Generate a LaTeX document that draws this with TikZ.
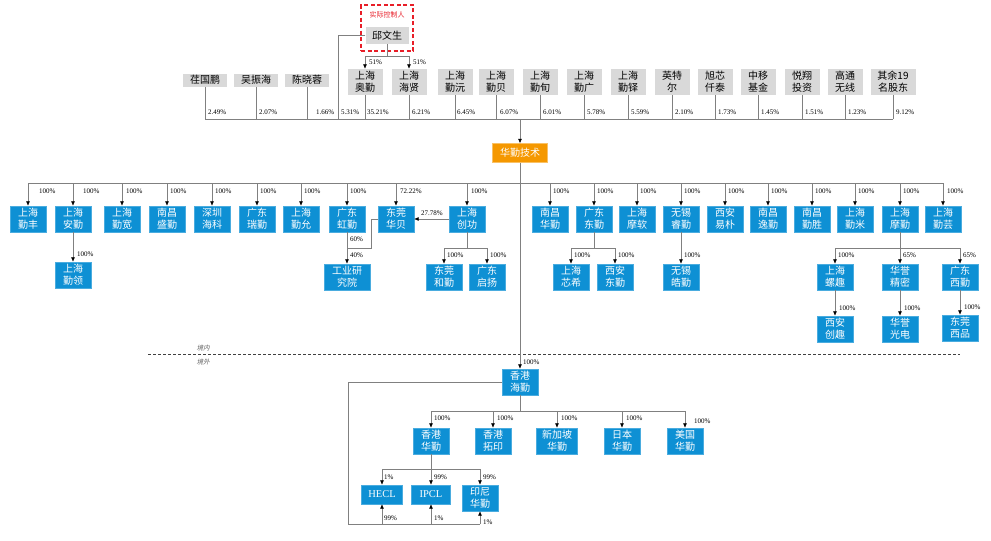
\documentclass[tikz,border=0pt]{standalone}
\usepackage{fontspec}
\setmainfont{Liberation Serif}
\newfontfamily\cjk{Noto Sans CJK SC}
\newfontfamily\cjkit[FakeSlant=0.25]{Noto Sans CJK SC}
\usetikzlibrary{arrows.meta}
\definecolor{qblue}{RGB}{14,144,212}
\definecolor{qgray}{RGB}{217,217,217}
\definecolor{qorange}{RGB}{245,152,0}
\definecolor{qline}{RGB}{128,128,128}
\definecolor{qred}{RGB}{232,30,40}
\tikzset{
 bbox/.style={fill=qblue, draw=qblue!75!white, line width=0.4pt, text=white, minimum width=36pt, minimum height=26pt, inner sep=0pt, align=center, font=\cjk\fontsize{10}{12}\selectfont},
 ebox/.style={bbox, minimum height=19pt, font=\fontsize{10.5}{12}\selectfont},
 gbox/.style={fill=qgray, text=black, minimum width=35pt, minimum height=26pt, inner sep=0pt, align=center, font=\cjk\fontsize{10}{12}\selectfont},
 gboxone/.style={gbox, minimum width=44pt, minimum height=13pt},
 ln/.style={draw=qline, line width=0.6pt},
 arr/.style={ln, -{Latex[length=4.5pt,width=4pt,color=black]}},
 pct/.style={anchor=west, inner sep=0pt, font=\fontsize{7}{8}\selectfont},
}
\begin{document}
\begin{tikzpicture}[x=1pt,y=-1pt]
\fill[white] (0,0) rectangle (991,541);
\useasboundingbox (0,0) rectangle (991,541);

% controller
\node[draw=qred, line width=1.2pt, dash pattern=on 4pt off 2.5pt, minimum width=52pt, minimum height=46pt, inner sep=0pt] (ctrl) at (387,28) {};
\node[text=qred, inner sep=0pt, font=\cjk\fontsize{7}{8}\selectfont] (ctrllab) at (387,15) {实际控制人};
\node[gbox, minimum width=43pt, minimum height=17pt] (qiu) at (387,35.5) {邱文生};

% shareholders
\node[gboxone] (h1) at (205,80) {荏国鹏};
\node[gboxone] (h2) at (256,80) {吴振海};
\node[gboxone] (h3) at (307,80) {陈晓蓉};
\node[gbox] (h4) at (365,82) {上海\\奥勤};
\node[gbox] (h5) at (409,82) {上海\\海贤};
\node[gbox] (h6) at (455,82) {上海\\勤沅};
\node[gbox] (h7) at (496,82) {上海\\勤贝};
\node[gbox] (h8) at (540,82) {上海\\勤旬};
\node[gbox] (h9) at (584,82) {上海\\勤广};
\node[gbox] (h10) at (628,82) {上海\\勤铎};
\node[gbox] (h11) at (672,82) {英特\\尔};
\node[gbox] (h12) at (715,82) {旭芯\\仟泰};
\node[gbox] (h13) at (758,82) {中移\\基金};
\node[gbox] (h14) at (802,82) {悦翔\\投资};
\node[gbox] (h15) at (845,82) {高通\\无线};
\node[gbox, minimum width=45pt] (h16) at (893,82) {其余19\\名股东};

\coordinate (busy) at (0,119);
\coordinate (b5) at (338,119);
\draw[ln] (h1.south |- busy) -- (h16.south |- busy);
\foreach \i in {1,...,16} \draw[ln] (h\i.south) -- (h\i.south |- busy);
\draw[ln] (qiu.west) -| (b5);
\foreach \i/\lx/\p in {1/208/2.49,2/259/2.07,3/316/1.66,4/367/35.21,5/412/6.21,6/457/6.45,7/500/6.07,8/543/6.01,9/587/5.78,10/631/5.59,11/675/2.10,12/718/1.73,13/761/1.45,14/805/1.51,15/848/1.23,16/896/9.12}
  \node[pct] (hl\i) at (\lx,112) {\p\%};
\node[pct] (hl0) at (341,112) {5.31\%};

\coordinate (qj) at (387,56);
\draw[ln] (qiu.south) -- (qj);
\draw[arr] (qj) -| (h4.north);
\draw[arr] (qj) -| (h5.north);
\node[pct] (ql1) at (369,62) {51\%};
\node[pct] (ql2) at (413,62) {51\%};

% company
\node[fill=qorange, draw=qorange!60!white, line width=0.4pt, text=white, minimum width=55pt, minimum height=19pt, inner sep=0pt, font=\cjk\fontsize{10}{12}\selectfont] (hq) at (520,153) {华勤技术};
\draw[arr] (hq.north |- busy) -- (hq.north);

% first-level subsidiaries
\foreach \i/\x/\a/\b in {1/28/上海/勤丰, 2/73/上海/安勤, 3/122/上海/勤宽, 4/167/南昌/盛勤, 5/212/深圳/海科, 6/257/广东/瑞勤, 7/301/上海/勤允, 8/347/广东/虹勤, 9/396/东莞/华贝, 10/467/上海/创功, 11/550/南昌/华勤, 12/594/广东/东勤, 13/637/上海/摩软, 14/681/无锡/睿勤, 15/725/西安/易朴, 16/768/南昌/逸勤, 17/812/南昌/勤胜, 18/855/上海/勤米, 19/900/上海/摩勤, 20/943/上海/勤芸}
  \node[bbox] (r\i) at (\x,219) {\a\\\b};
\coordinate (busb) at (0,183);
\draw[ln] (r1.north |- busb) -- (r20.north |- busb);
\foreach \i in {1,...,20} \draw[arr] (r\i.north |- busb) -- (r\i.north);
\foreach \i/\lx/\p in {1/39/100,2/83/100,3/126/100,4/170/100,5/215/100,6/260/100,7/304/100,8/350/100,9/400/72.22,10/471/100,11/553/100,12/597/100,13/640/100,14/684/100,15/728/100,16/771/100,17/815/100,18/858/100,19/903/100,20/947/100}
  \node[pct] (rl\i) at (\lx,191) {\p\%};

% second level
\node[bbox] (c1) at (73,275) {上海\\勤领};
\node[bbox, minimum width=46pt] (c2) at (347,277) {工业研\\究院};
\node[bbox] (c3) at (444,277) {东莞\\和勤};
\node[bbox] (c4) at (487,277) {广东\\启扬};
\node[bbox] (c5) at (571,277) {上海\\芯希};
\node[bbox] (c6) at (615,277) {西安\\东勤};
\node[bbox] (c7) at (681,277) {无锡\\皓勤};
\node[bbox] (c8) at (835,277) {上海\\螺趣};
\node[bbox] (c9) at (900,277) {华誉\\精密};
\node[bbox] (c10) at (960,277) {广东\\西勤};
\node[bbox] (d1) at (835,329) {西安\\创趣};
\node[bbox] (d2) at (900,329) {华誉\\光电};
\node[bbox] (d3) at (960,328) {东莞\\西品};

\draw[arr] (r2.south) -- (c1.north);
\node[pct] (cl1) at (77,254) {100\%};

\coordinate (j1) at (347,248);
\draw[arr] (r8.south) -- (c2.north);
\draw[ln] (r9.west) -- (371,219) |- (j1);
\node[pct] (cl2a) at (350,239) {60\%};
\node[pct] (cl2b) at (350,255) {40\%};
\draw[arr] (r10.west) -- (r9.east);
\node[pct] (cl9) at (421,213) {27.78\%};

\coordinate (j2) at (467,248);
\draw[ln] (r10.south) -- (j2);
\draw[arr] (j2) -| (c3.north);
\draw[arr] (j2) -| (c4.north);
\node[pct] (cl3) at (447,255) {100\%};
\node[pct] (cl4) at (490,255) {100\%};

\coordinate (j3) at (594,248);
\draw[ln] (r12.south) -- (j3);
\draw[arr] (j3) -| (c5.north);
\draw[arr] (j3) -| (c6.north);
\node[pct] (cl5) at (574,255) {100\%};
\node[pct] (cl6) at (618,255) {100\%};

\draw[arr] (r14.south) -- (c7.north);
\node[pct] (cl7) at (684,255) {100\%};

\coordinate (j4) at (900,248);
\draw[ln] (r19.south) -- (j4);
\draw[arr] (j4) -| (c8.north);
\draw[arr] (j4) -- (c9.north);
\draw[arr] (j4) -| (c10.north);
\node[pct] (cl8) at (838,255) {100\%};
\node[pct] (cl9b) at (903,255) {65\%};
\node[pct] (cl10) at (963,255) {65\%};

\draw[arr] (c8.south) -- (d1.north);
\draw[arr] (c9.south) -- (d2.north);
\draw[arr] (c10.south) -- (d3.north);
\node[pct] (dl1) at (839,308) {100\%};
\node[pct] (dl2) at (904,308) {100\%};
\node[pct] (dl3) at (964,307) {100\%};

% border line
\coordinate (dashl) at (148,354);
\coordinate (dashr) at (960,354);
\draw[black!75, line width=0.8pt, dash pattern=on 3pt off 2pt] (dashl) -- (dashr);
\node[text=black!60, inner sep=0pt, font=\cjkit\fontsize{6.5}{7}\selectfont] (jn) at (203,348) {境内};
\node[text=black!60, inner sep=0pt, font=\cjkit\fontsize{6.5}{7}\selectfont] (jw) at (203,362) {境外};

% overseas
\node[bbox] (hk) at (520,382) {香港\\海勤};
\draw[arr] (hq.south) -- (hk.north);
\node[pct] (hkl) at (523,362) {100\%};

\node[bbox] (k1) at (431,441) {香港\\华勤};
\node[bbox] (k2) at (493,441) {香港\\拓印};
\node[bbox, minimum width=41pt] (k3) at (557,441) {新加坡\\华勤};
\node[bbox] (k4) at (622,441) {日本\\华勤};
\node[bbox] (k5) at (685,441) {美国\\华勤};
\coordinate (j5) at (520,411);
\draw[ln] (hk.south) -- (j5);
\draw[ln] (k1.north |- j5) -- (k5.north |- j5);
\foreach \i in {1,...,5} \draw[arr] (k\i.north |- j5) -- (k\i.north);
\foreach \i/\lx/\ly in {1/434/418,2/497/418,3/561/418,4/626/418,5/694/421}
  \node[pct] (kl\i) at (\lx,\ly) {100\%};

\node[ebox, minimum width=41pt] (e1) at (382,494.5) {HECL};
\node[ebox, minimum width=39pt] (e2) at (431,494.5) {IPCL};
\node[bbox] (e3) at (480,498) {印尼\\华勤};
\coordinate (j6) at (431,469);
\draw[ln] (k1.south) -- (j6);
\draw[ln] (e1.north |- j6) -- (e3.north |- j6);
\foreach \i in {1,2,3} \draw[arr] (e\i.north |- j6) -- (e\i.north);
\node[pct] (el1) at (384,477) {1\%};
\node[pct] (el2) at (434,477) {99\%};
\node[pct] (el3) at (483,477) {99\%};

\coordinate (j7) at (348,524);
\draw[ln] (hk.west) -| (j7) -- (e3.south |- j7);
\foreach \i in {1,2,3} \draw[arr] (e\i.south |- j7) -- (e\i.south);
\node[pct] (fl1) at (384,518) {99\%};
\node[pct] (fl2) at (434,518) {1\%};
\node[pct] (fl3) at (483,522) {1\%};
\end{tikzpicture}
\end{document}
